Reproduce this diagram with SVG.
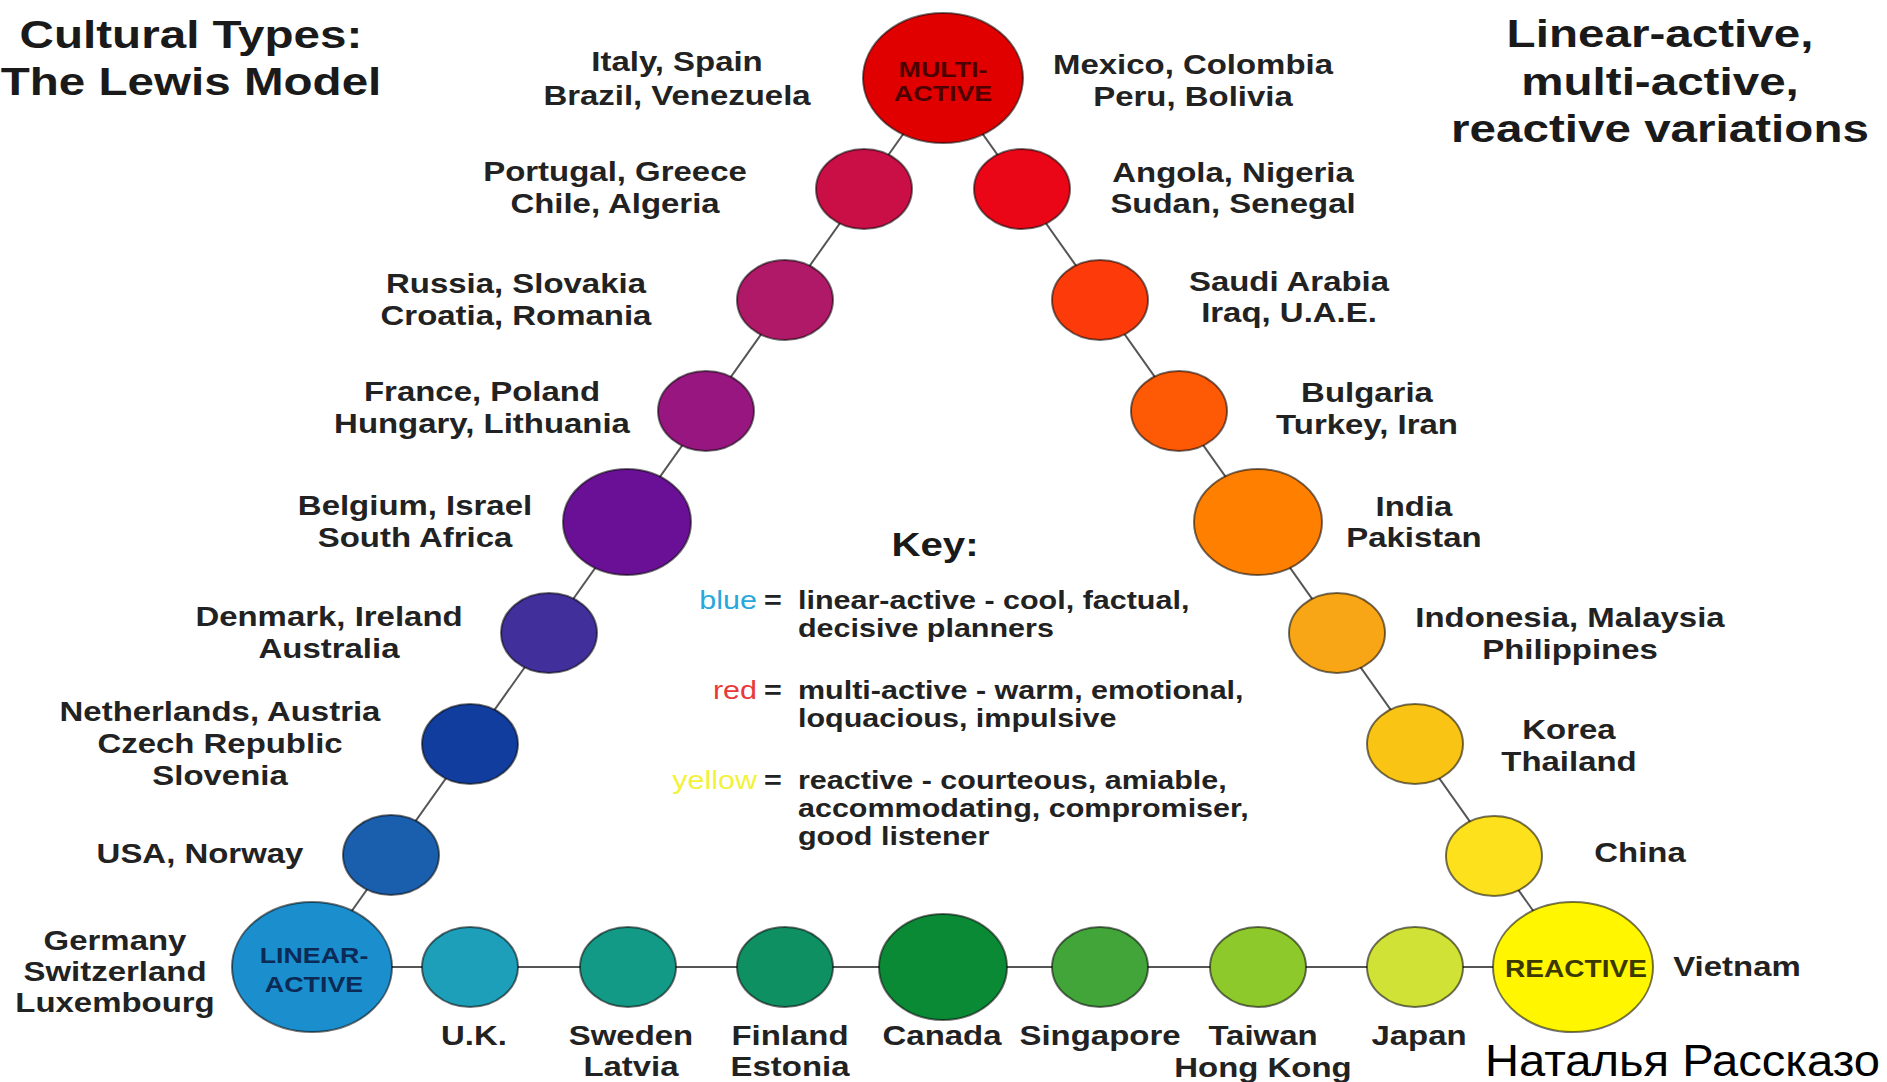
<svg xmlns="http://www.w3.org/2000/svg" width="1887" height="1082" viewBox="0 0 1887 1082">
<style>
text { font-family: "Liberation Sans", Arial, sans-serif; font-weight: bold; }
.lbl { font-size: 27px; fill: #222; text-anchor: middle; }
.ttl { font-size: 39px; fill: #1a1a1a; text-anchor: middle; }
.key { font-size: 25px; fill: #222; }
.in { font-size: 22px; text-anchor: middle; }
.node { stroke: #000; stroke-opacity: 0.55; stroke-width: 2; }
.conn { stroke: #555; stroke-width: 2; fill: none; }
</style>
<rect width="1887" height="1082" fill="#fff"/>

<g id="connectors">
  <line class="conn" x1="943" y1="78" x2="312" y2="967"/>
  <line class="conn" x1="943" y1="78" x2="1573" y2="967"/>
  <line class="conn" x1="312" y1="967" x2="1573" y2="967"/>
</g>

<g id="titles">
  <text class="ttl" transform="translate(191 0) scale(1.22 1)"><tspan x="0" y="48">Cultural Types:</tspan><tspan x="0" y="95">The Lewis Model</tspan></text>
  <text class="ttl" transform="translate(1660 0) scale(1.22 1)"><tspan x="0" y="47">Linear-active,</tspan><tspan x="0" y="95">multi-active,</tspan><tspan x="0" y="142">reactive variations</tspan></text>
</g>

<g id="key">
  <text class="ttl" style="font-size:33px" transform="translate(935 0) scale(1.22 1)" x="0" y="556">Key:</text>
  <text class="key" style="text-anchor:end;fill:#29a6dc;font-weight:normal" transform="translate(757 0) scale(1.22 1)" x="0" y="609">blue</text>
  <text class="key" transform="translate(764 0) scale(1.22 1)" x="0" y="609">=</text>
  <text class="key" transform="translate(798 0) scale(1.22 1)"><tspan x="0" y="609">linear-active - cool, factual,</tspan><tspan x="0" y="637">decisive planners</tspan></text>
  <text class="key" style="text-anchor:end;fill:#e8393a;font-weight:normal" transform="translate(757 0) scale(1.22 1)" x="0" y="699">red</text>
  <text class="key" transform="translate(764 0) scale(1.22 1)" x="0" y="699">=</text>
  <text class="key" transform="translate(798 0) scale(1.22 1)"><tspan x="0" y="699">multi-active - warm, emotional,</tspan><tspan x="0" y="727">loquacious, impulsive</tspan></text>
  <text class="key" style="text-anchor:end;fill:#f2f23a;font-weight:normal" transform="translate(757 0) scale(1.22 1)" x="0" y="789">yellow</text>
  <text class="key" transform="translate(764 0) scale(1.22 1)" x="0" y="789">=</text>
  <text class="key" transform="translate(798 0) scale(1.22 1)"><tspan x="0" y="789">reactive - courteous, amiable,</tspan><tspan x="0" y="817">accommodating, compromiser,</tspan><tspan x="0" y="845">good listener</tspan></text>
</g>

<g id="multi-active">
  <ellipse class="node" cx="943" cy="78" rx="80" ry="65" fill="#e00000"/>
  <text class="in" fill="#4e0000" transform="translate(943 0) scale(1.22 1)"><tspan x="0" y="77">MULTI-</tspan><tspan x="0" y="101">ACTIVE</tspan></text>
</g>
<g id="italy">
  <text class="lbl" transform="translate(677 0) scale(1.22 1)"><tspan x="0" y="71">Italy, Spain</tspan><tspan x="0" y="105">Brazil, Venezuela</tspan></text>
</g>
<g id="mexico">
  <text class="lbl" transform="translate(1193 0) scale(1.22 1)"><tspan x="0" y="74">Mexico, Colombia</tspan><tspan x="0" y="106">Peru, Bolivia</tspan></text>
</g>

<g id="portugal">
  <ellipse class="node" cx="864" cy="189" rx="48" ry="40" fill="#c90f45"/>
  <text class="lbl" transform="translate(615 0) scale(1.22 1)"><tspan x="0" y="181">Portugal, Greece</tspan><tspan x="0" y="213">Chile, Algeria</tspan></text>
</g>
<g id="russia">
  <ellipse class="node" cx="785" cy="300" rx="48" ry="40" fill="#b01868"/>
  <text class="lbl" transform="translate(516 0) scale(1.22 1)"><tspan x="0" y="293">Russia, Slovakia</tspan><tspan x="0" y="325">Croatia, Romania</tspan></text>
</g>
<g id="france">
  <ellipse class="node" cx="706" cy="411" rx="48" ry="40" fill="#97167f"/>
  <text class="lbl" transform="translate(482 0) scale(1.22 1)"><tspan x="0" y="401">France, Poland</tspan><tspan x="0" y="433">Hungary, Lithuania</tspan></text>
</g>
<g id="belgium">
  <ellipse class="node" cx="627" cy="522" rx="64" ry="53" fill="#6a1096"/>
  <text class="lbl" transform="translate(415 0) scale(1.22 1)"><tspan x="0" y="515">Belgium, Israel</tspan><tspan x="0" y="547">South Africa</tspan></text>
</g>
<g id="denmark">
  <ellipse class="node" cx="549" cy="633" rx="48" ry="40" fill="#41309b"/>
  <text class="lbl" transform="translate(329 0) scale(1.22 1)"><tspan x="0" y="626">Denmark, Ireland</tspan><tspan x="0" y="658">Australia</tspan></text>
</g>
<g id="netherlands">
  <ellipse class="node" cx="470" cy="744" rx="48" ry="40" fill="#113d9e"/>
  <text class="lbl" transform="translate(220 0) scale(1.22 1)"><tspan x="0" y="721">Netherlands, Austria</tspan><tspan x="0" y="753">Czech Republic</tspan><tspan x="0" y="785">Slovenia</tspan></text>
</g>
<g id="usa">
  <ellipse class="node" cx="391" cy="855" rx="48" ry="40" fill="#1a5fae"/>
  <text class="lbl" transform="translate(200 0) scale(1.22 1)" x="0" y="863">USA, Norway</text>
</g>
<g id="linear-active">
  <ellipse class="node" cx="312" cy="967" rx="80" ry="65" fill="#1b8fcd"/>
  <text class="in" fill="#0b2a55" transform="translate(314 0) scale(1.22 1)"><tspan x="0" y="963">LINEAR-</tspan><tspan x="0" y="992">ACTIVE</tspan></text>
  <text class="lbl" transform="translate(115 0) scale(1.22 1)"><tspan x="0" y="950">Germany</tspan><tspan x="0" y="981">Switzerland</tspan><tspan x="0" y="1012">Luxembourg</tspan></text>
</g>

<g id="uk">
  <ellipse class="node" cx="470" cy="967" rx="48" ry="40" fill="#1d9fb9"/>
  <text class="lbl" transform="translate(474 0) scale(1.22 1)" x="0" y="1045">U.K.</text>
</g>
<g id="sweden">
  <ellipse class="node" cx="628" cy="967" rx="48" ry="40" fill="#139a86"/>
  <text class="lbl" transform="translate(631 0) scale(1.22 1)"><tspan x="0" y="1045">Sweden</tspan><tspan x="0" y="1076">Latvia</tspan></text>
</g>
<g id="finland">
  <ellipse class="node" cx="785" cy="967" rx="48" ry="40" fill="#0e9063"/>
  <text class="lbl" transform="translate(790 0) scale(1.22 1)"><tspan x="0" y="1045">Finland</tspan><tspan x="0" y="1076">Estonia</tspan></text>
</g>
<g id="canada">
  <ellipse class="node" cx="943" cy="967" rx="64" ry="53" fill="#0b8a35"/>
  <text class="lbl" transform="translate(942 0) scale(1.22 1)" x="0" y="1045">Canada</text>
</g>
<g id="singapore">
  <ellipse class="node" cx="1100" cy="967" rx="48" ry="40" fill="#42a53a"/>
  <text class="lbl" transform="translate(1100 0) scale(1.22 1)" x="0" y="1045">Singapore</text>
</g>
<g id="taiwan">
  <ellipse class="node" cx="1258" cy="967" rx="48" ry="40" fill="#8dc92b"/>
  <text class="lbl" transform="translate(1263 0) scale(1.22 1)"><tspan x="0" y="1045">Taiwan</tspan><tspan x="0" y="1077">Hong Kong</tspan></text>
</g>
<g id="japan">
  <ellipse class="node" cx="1415" cy="967" rx="48" ry="40" fill="#d0e235"/>
  <text class="lbl" transform="translate(1419 0) scale(1.22 1)" x="0" y="1045">Japan</text>
</g>
<g id="reactive">
  <ellipse class="node" cx="1573" cy="967" rx="80" ry="65" fill="#fff600"/>
  <text class="in" style="font-size:23px" fill="#3b3800" transform="translate(1576 0) scale(1.22 1)" x="0" y="977">REACTIVE</text>
  <text class="lbl" transform="translate(1737 0) scale(1.22 1)" x="0" y="976">Vietnam</text>
</g>

<g id="angola">
  <ellipse class="node" cx="1022" cy="189" rx="48" ry="40" fill="#eb0617"/>
  <text class="lbl" transform="translate(1233 0) scale(1.22 1)"><tspan x="0" y="182">Angola, Nigeria</tspan><tspan x="0" y="213">Sudan, Senegal</tspan></text>
</g>
<g id="saudi">
  <ellipse class="node" cx="1100" cy="300" rx="48" ry="40" fill="#fd3b0a"/>
  <text class="lbl" transform="translate(1289 0) scale(1.22 1)"><tspan x="0" y="291">Saudi Arabia</tspan><tspan x="0" y="322">Iraq, U.A.E.</tspan></text>
</g>
<g id="bulgaria">
  <ellipse class="node" cx="1179" cy="411" rx="48" ry="40" fill="#fe5a06"/>
  <text class="lbl" transform="translate(1367 0) scale(1.22 1)"><tspan x="0" y="402">Bulgaria</tspan><tspan x="0" y="434">Turkey, Iran</tspan></text>
</g>
<g id="india">
  <ellipse class="node" cx="1258" cy="522" rx="64" ry="53" fill="#ff8000"/>
  <text class="lbl" transform="translate(1414 0) scale(1.22 1)"><tspan x="0" y="516">India</tspan><tspan x="0" y="547">Pakistan</tspan></text>
</g>
<g id="indonesia">
  <ellipse class="node" cx="1337" cy="633" rx="48" ry="40" fill="#f9a616"/>
  <text class="lbl" transform="translate(1570 0) scale(1.22 1)"><tspan x="0" y="627">Indonesia, Malaysia</tspan><tspan x="0" y="659">Philippines</tspan></text>
</g>
<g id="korea">
  <ellipse class="node" cx="1415" cy="744" rx="48" ry="40" fill="#f9c414"/>
  <text class="lbl" transform="translate(1569 0) scale(1.22 1)"><tspan x="0" y="739">Korea</tspan><tspan x="0" y="771">Thailand</tspan></text>
</g>
<g id="china">
  <ellipse class="node" cx="1494" cy="856" rx="48" ry="40" fill="#fde11c"/>
  <text class="lbl" transform="translate(1640 0) scale(1.22 1)" x="0" y="862">China</text>
</g>

<text x="1485" y="1076" textLength="395" lengthAdjust="spacingAndGlyphs" style="font-weight:normal;font-size:45px;fill:#000">Наталья Рассказо</text>
</svg>
